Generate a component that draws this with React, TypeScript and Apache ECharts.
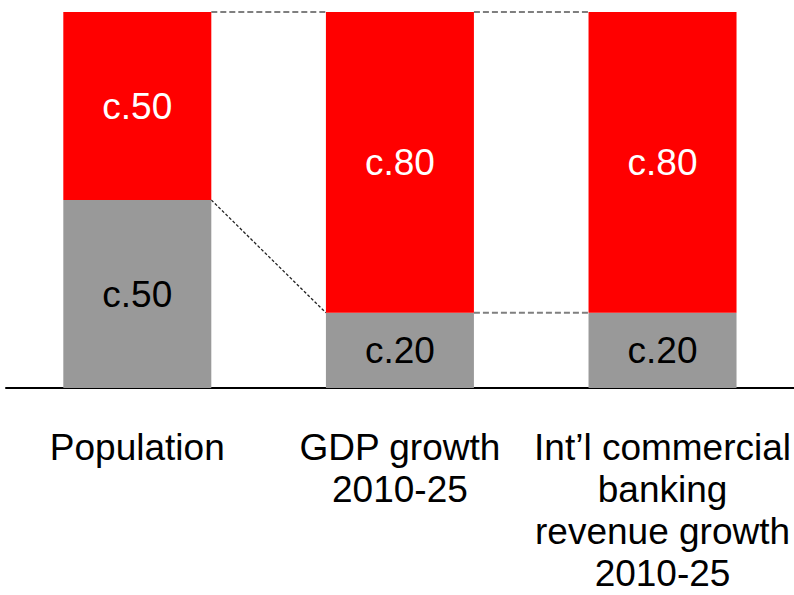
import React, { useEffect, useRef } from "react";
import * as echarts from "echarts";

const categories = ["Population", "GDP growth\n2010-25", "Int’l commercial\nbanking\nrevenue growth\n2010-25"];
const grayValues = [50, 20, 20];
const redValues = [50, 80, 80];
const grayLabels = ["c.50", "c.20", "c.20"];
const redLabels = ["c.50", "c.80", "c.80"];

const FONT = "'Liberation Sans', Arial, sans-serif";

export default function App() {
  const ref = useRef<HTMLDivElement>(null);
  useEffect(() => {
    document.body.style.margin = "0";
    const chart = echarts.init(ref.current!, null, { renderer: "svg" });
    const barWidth = 148;
    chart.setOption({
      animation: false,
      grid: { left: 6, right: 0, top: 12, bottom: 207 },
      xAxis: {
        type: "category",
        data: categories,
        axisLine: { show: true, lineStyle: { color: "#000", width: 2 } },
        axisTick: { show: false },
        axisLabel: {
          interval: 0,
          margin: 38,
          fontSize: 37,
          lineHeight: 42,
          color: "#000",
          fontFamily: FONT,
        },
      },
      yAxis: { type: "value", min: 0, max: 100, show: false, splitLine: { show: false } },
      series: [
        {
          type: "bar",
          stack: "s",
          barWidth,
          data: grayValues,
          itemStyle: { color: "#999999" },
          label: {
            show: true,
            position: "inside",
            color: "#000",
            fontSize: 37,
            fontFamily: FONT,
            formatter: (p: any) => grayLabels[p.dataIndex],
          },
        },
        {
          type: "bar",
          stack: "s",
          barWidth,
          data: redValues,
          itemStyle: { color: "#FF0000" },
          label: {
            show: true,
            position: "inside",
            color: "#fff",
            fontSize: 37,
            fontFamily: FONT,
            formatter: (p: any) => redLabels[p.dataIndex],
          },
        },
      ],
    });
    const px = (i: number, v: number) => chart.convertToPixel({ xAxisIndex: 0, yAxisIndex: 0 }, [i, v]) as number[];
    const half = barWidth / 2;
    const lines: any[] = [];
    for (let i = 0; i < categories.length - 1; i++) {
      const totA = grayValues[i] + redValues[i];
      const totB = grayValues[i + 1] + redValues[i + 1];
      const a = px(i, totA);
      const b = px(i + 1, totB);
      lines.push({
        type: "line",
        shape: { x1: a[0] + half, y1: a[1], x2: b[0] - half, y2: b[1] },
        style: { stroke: "#7f7f7f", lineWidth: 2, lineDash: [6, 3] },
      });
      const c = px(i, grayValues[i]);
      const d = px(i + 1, grayValues[i + 1]);
      const diag = c[1] !== d[1];
      lines.push({
        type: "line",
        shape: { x1: c[0] + half, y1: c[1], x2: d[0] - half, y2: d[1] },
        style: diag
          ? { stroke: "#222", lineWidth: 1.3, lineDash: [3, 2] }
          : { stroke: "#7f7f7f", lineWidth: 2, lineDash: [6, 3] },
      });
    }
    chart.setOption({ graphic: lines });
    return () => chart.dispose();
  }, []);
  return <div ref={ref} style={{ width: 794, height: 595 }} />;
}
